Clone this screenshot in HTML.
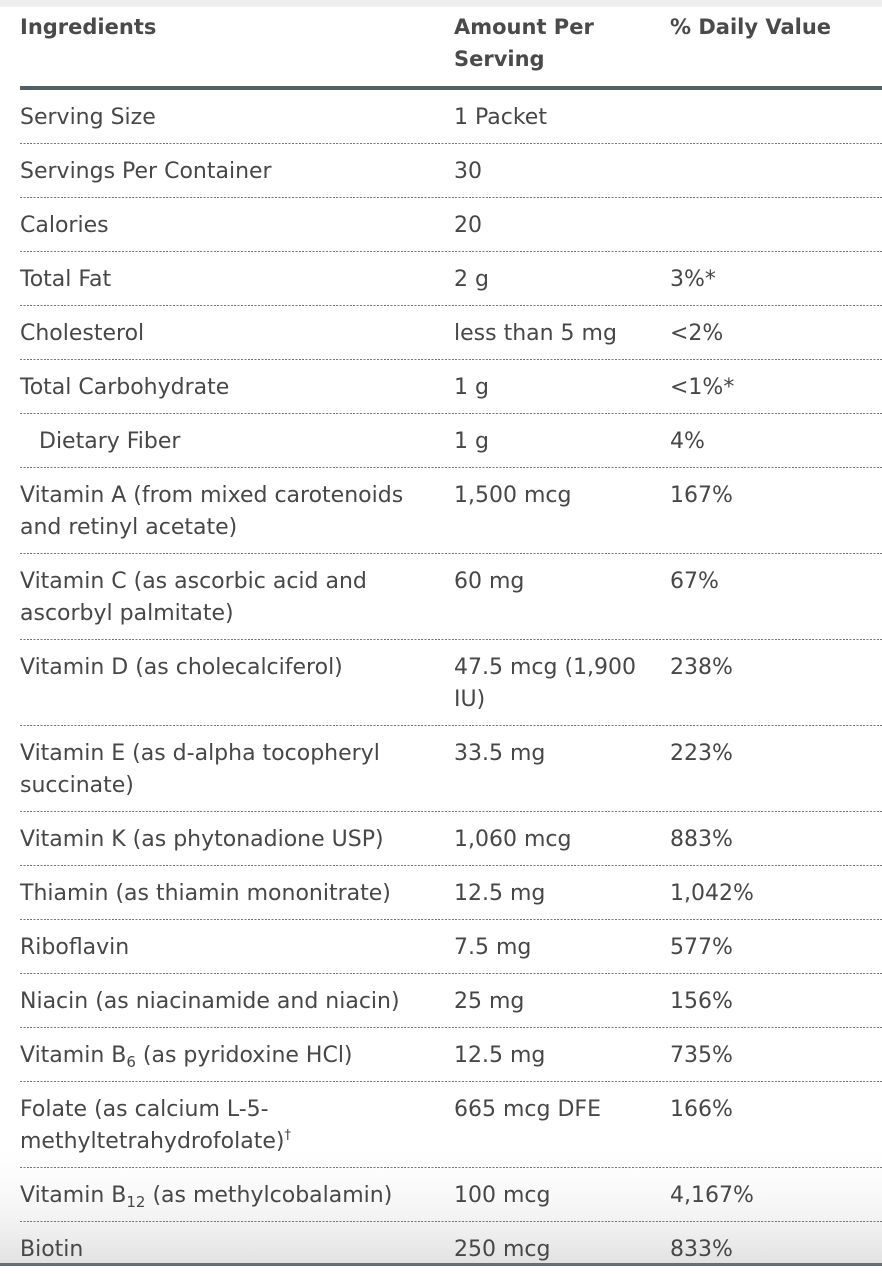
<!DOCTYPE html>
<html>
<head>
<meta charset="utf-8">
<style>
  html, body { margin:0; padding:0; }
  body { width:882px; height:1266px; position:relative; overflow:hidden; background:#fff;
    font-family:"DejaVu Sans","Liberation Sans",sans-serif; color:#474747; font-size:22px; }
  .topband { position:absolute; left:0; top:0; width:882px; height:7px; background:#eeeeee; }
  .fade { position:absolute; left:0; top:1150px; width:882px; height:113px;
    background:linear-gradient(to bottom, #ffffff 0%, #fafafa 35%, #f0f0f0 70%, #e2e2e2 100%); }
  .bottomline { position:absolute; left:0; top:1263px; width:882px; height:3px; background:#676e73; }
  .head { position:absolute; left:20px; top:11px; width:862px; height:64px; font-weight:bold; font-size:21px; color:#4a4a4a; line-height:32px; }
  .head div { position:absolute; top:0; white-space:nowrap; }
  .hline { position:absolute; left:20px; top:86px; width:862px; height:4px; background:#535f67; }
  .rows { position:absolute; left:20px; top:90px; width:862px; }
  .row { position:relative; padding-top:10px; padding-bottom:11px; line-height:32px; height:32px; }
  .row.d { height:64px; }
  .row::after { content:""; position:absolute; left:0; right:0; bottom:-1px; height:1px;
    background:repeating-linear-gradient(90deg, #6e777d 0 2px, transparent 2px 3.4px); }
  .row { margin-bottom:1px; }
  .c1, .c2, .c3 { position:absolute; top:12px; white-space:nowrap; }
  .c1 { left:0; }
  .c2 { left:434px; }
  .c3 { left:650px; }
  .ind { left:19px; }
  sub { font-size:15px; vertical-align:-5px; line-height:0; }
  sup { font-size:13px; vertical-align:9px; line-height:0; }
  .last::after { display:none; }
</style>
</head>
<body>
<div class="topband"></div>
<div class="fade"></div>
<div class="bottomline"></div>

<div class="head">
  <div style="left:0">Ingredients</div>
  <div style="left:434px">Amount Per<br>Serving</div>
  <div style="left:650px">% Daily Value</div>
</div>
<div class="hline"></div>

<div class="rows">
  <div class="row"><span class="c1">Serving Size</span><span class="c2">1 Packet</span></div>
  <div class="row"><span class="c1">Servings Per Container</span><span class="c2">30</span></div>
  <div class="row"><span class="c1">Calories</span><span class="c2">20</span></div>
  <div class="row"><span class="c1">Total Fat</span><span class="c2">2 g</span><span class="c3">3%*</span></div>
  <div class="row"><span class="c1">Cholesterol</span><span class="c2">less than 5 mg</span><span class="c3">&lt;2%</span></div>
  <div class="row"><span class="c1">Total Carbohydrate</span><span class="c2">1 g</span><span class="c3">&lt;1%*</span></div>
  <div class="row"><span class="c1 ind">Dietary Fiber</span><span class="c2">1 g</span><span class="c3">4%</span></div>
  <div class="row d"><span class="c1">Vitamin A (from mixed carotenoids<br>and retinyl acetate)</span><span class="c2">1,500 mcg</span><span class="c3">167%</span></div>
  <div class="row d"><span class="c1">Vitamin C (as ascorbic acid and<br>ascorbyl palmitate)</span><span class="c2">60 mg</span><span class="c3">67%</span></div>
  <div class="row d"><span class="c1">Vitamin D (as cholecalciferol)</span><span class="c2">47.5 mcg (1,900<br>IU)</span><span class="c3">238%</span></div>
  <div class="row d"><span class="c1">Vitamin E (as d-alpha tocopheryl<br>succinate)</span><span class="c2">33.5 mg</span><span class="c3">223%</span></div>
  <div class="row"><span class="c1">Vitamin K (as phytonadione USP)</span><span class="c2">1,060 mcg</span><span class="c3">883%</span></div>
  <div class="row"><span class="c1">Thiamin (as thiamin mononitrate)</span><span class="c2">12.5 mg</span><span class="c3">1,042%</span></div>
  <div class="row"><span class="c1">Riboflavin</span><span class="c2">7.5 mg</span><span class="c3">577%</span></div>
  <div class="row"><span class="c1">Niacin (as niacinamide and niacin)</span><span class="c2">25 mg</span><span class="c3">156%</span></div>
  <div class="row"><span class="c1">Vitamin B<sub>6</sub> (as pyridoxine HCl)</span><span class="c2">12.5 mg</span><span class="c3">735%</span></div>
  <div class="row d"><span class="c1">Folate (as calcium L-5-<br>methyltetrahydrofolate)<sup>†</sup></span><span class="c2">665 mcg DFE</span><span class="c3">166%</span></div>
  <div class="row"><span class="c1">Vitamin B<sub>12</sub> (as methylcobalamin)</span><span class="c2">100 mcg</span><span class="c3">4,167%</span></div>
  <div class="row last"><span class="c1">Biotin</span><span class="c2">250 mcg</span><span class="c3">833%</span></div>
</div>
</body>
</html>
